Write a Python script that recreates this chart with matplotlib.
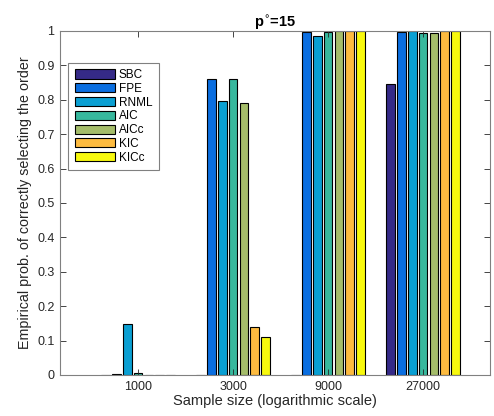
import matplotlib
matplotlib.use("Agg")
import matplotlib.pyplot as plt
import numpy as np

sample_sizes = ["1000", "3000", "9000", "27000"]
criteria = ["SBC", "FPE", "RNML", "AIC", "AICc", "KIC", "KICc"]
SBC  = [0.001, 0.001, 0.001, 0.845]
FPE  = [0.003, 0.860, 0.996, 0.996]
RNML = [0.147, 0.796, 0.986, 0.999]
AIC  = [0.005, 0.861, 0.996, 0.995]
AICc = [0.001, 0.791, 0.999, 0.995]
KIC  = [0.001, 0.140, 1.000, 1.000]
KICc = [0.001, 0.111, 1.000, 1.000]
series = [SBC, FPE, RNML, AIC, AICc, KIC, KICc]
colors = ["#352a87", "#0a6ee0", "#0a9fd2", "#37b89d", "#a5bd6a", "#fdbb40", "#f8f90e"]

plt.rcParams['font.family'] = ['Liberation Sans', 'DejaVu Sans']
fig = plt.figure(figsize=(4.94, 4.16), dpi=100)
ax = fig.add_axes([0.1215, 0.0986, 0.8705, 0.8269])

x = np.arange(len(sample_sizes))
n = len(series)
slot = 0.8 / n
for i, (vals, c, lab) in enumerate(zip(series, colors, criteria)):
    ax.bar(x + (i - (n - 1) / 2) * slot, vals, width=slot * 0.8, color=c,
           edgecolor='black', linewidth=0.8, label=lab)

ax.set_xlim(-0.821, 3.705)
ax.set_ylim(0, 1)
ax.set_xticks(x)
ax.set_xticklabels(sample_sizes)
ax.set_yticks(np.arange(0, 1.01, 0.1))
ax.set_yticklabels(["0"] + [f"{v:.1f}" for v in np.arange(0.1, 0.95, 0.1)] + ["1"])
ax.tick_params(direction='in', top=True, right=True, labelsize=9, length=4,
               color='#262626', labelcolor='#262626', width=0.6, pad=4)
for s in ax.spines.values():
    s.set_color('#808080')
    s.set_linewidth(0.8)

ax.set_xlabel("Sample size (logarithmic scale)", fontsize=10.5, color='#262626', labelpad=1)
ax.set_ylabel("Empirical prob. of correctly selecting the order", fontsize=10.3, color='#262626', labelpad=4)
ax.set_title(r"p$^{\circ}$=15", fontsize=10.5, fontweight='bold', pad=3)

leg = ax.legend(loc='upper left', bbox_to_anchor=(0.0193, 0.908), fontsize=8.5,
                handlelength=3.4, handleheight=0.82, labelspacing=0.15,
                handletextpad=0.34, borderpad=0.55, fancybox=False, framealpha=1,
                edgecolor='#808080', borderaxespad=0)
leg.get_frame().set_linewidth(0.8)

fig.savefig("out.png", dpi=100)
